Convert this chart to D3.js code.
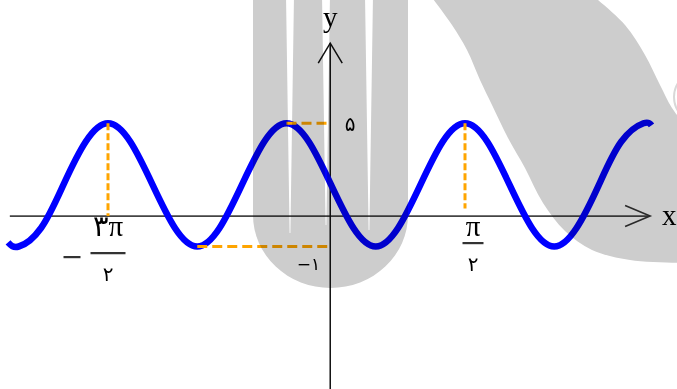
<!DOCTYPE html>
<html>
<head>
<meta charset="utf-8">
<script src="https://cdn.jsdelivr.net/npm/d3@7"></script>
<style>
  html, body { margin: 0; padding: 0; background: #fff; }
  svg { display: block; }
</style>
</head>
<body>
<svg id="chart" width="677" height="389"></svg>
<script>
// curve, x in multiples of pi
const curveX = [-2.06, -2, -1.875, -1.75, -1.625, -1.5, -1.375, -1.25, -1.125, -1,
  -0.875, -0.75, -0.625, -0.5, -0.375, -0.25, -0.125, 0, 0.125, 0.25, 0.375,
  0.5, 0.625, 0.75, 0.875, 1, 1.125, 1.25, 1.375, 1.5, 1.545];
const curveY = [-0.8, -1, -0.1, 2, 4.1, 5, 4.1, 2, -0.1, -1,
  -0.1, 2, 4.1, 5, 4.1, 2, -0.1, -1, -0.1, 2, 4.1,
  5, 4.1, 2, -0.1, -1, -0.1, 2, 4.1, 5, 4.9];

// marked x values (in pi) and their fraction labels
const xTicks = [-1.5, 0.5];
const xTickGuideEnd = [0.48, 0.85];  // y where the vertical dashed guide stops
const xTickSign = ["−", ""];
const xTickNum = ["۳π", "π"];
const xTickDen = ["۲", "۲"];

// marked y values and labels
const yTicks = [5, -1];
const yTickLabels = ["۵", "−۱"];
const yTickFrom = [-0.5, -1];   // x (in pi) where the dashed guide starts

// where the axes sit in the drawing (the figure is not to scale)
const yAxisAt = -0.255;
const xAxisAt = 0.48;
const xAxisExtent = [-2.05, 1.537];
const yAxisExtent = [-8, 8.9];

const svg = d3.select("#chart");

const x = d3.scaleLinear().domain([-1.5, 0.5]).range([108, 465]);
const y = d3.scaleLinear().domain([-1, 5]).range([246.5, 123.3]);

const pts = curveX.map((d, i) => ({x: d, y: curveY[i]}));
const guideColor = "#ffa500";

// axes
const ax0 = x(yAxisAt), ay0 = y(xAxisAt);
svg.append("line")
  .attr("x1", x(xAxisExtent[0])).attr("x2", x(xAxisExtent[1]))
  .attr("y1", ay0).attr("y2", ay0)
  .style("stroke", "#444").style("stroke-width", 1.7);
svg.append("line")
  .attr("x1", ax0).attr("x2", ax0)
  .attr("y1", y(yAxisExtent[1])).attr("y2", y(yAxisExtent[0]))
  .style("stroke", "#111").style("stroke-width", 1.5);

const xTip = x(xAxisExtent[1]), yTip = y(yAxisExtent[1]);
svg.append("path")
  .attr("d", `M${xTip - 25},${ay0 - 10.5}L${xTip},${ay0}L${xTip - 25},${ay0 + 10.5}`)
  .style("fill", "none").style("stroke", "#333").style("stroke-width", 1.6);
svg.append("path")
  .attr("d", `M${ax0 - 12},${yTip + 20}L${ax0},${yTip}L${ax0 + 12},${yTip + 20}`)
  .style("fill", "none").style("stroke", "#111").style("stroke-width", 1.5);

svg.append("text")
  .attr("x", xTip + 12).attr("y", ay0 + 9)
  .attr("font-family", "Liberation Serif, serif").attr("font-size", 29)
  .text("x");
svg.append("text")
  .attr("x", ax0).attr("y", 27)
  .attr("text-anchor", "middle")
  .attr("font-family", "Liberation Serif, serif").attr("font-size", 29)
  .text("y");

// curve
const line = d3.line()
  .x(d => x(d.x))
  .y(d => y(d.y))
  .curve(d3.curveNatural);

svg.append("path")
  .datum(pts)
  .attr("d", line)
  .style("fill", "none")
  .style("stroke", "#0000ff")
  .style("stroke-width", 6.5);

// dashed guides
xTicks.forEach((t, i) => {
  svg.append("line")
    .attr("x1", x(t)).attr("x2", x(t))
    .attr("y1", y(5)).attr("y2", y(xTickGuideEnd[i]))
    .style("stroke", guideColor).style("stroke-width", 3)
    .style("stroke-dasharray", "7,3");
});
yTicks.forEach((t, i) => {
  svg.append("line")
    .attr("x1", x(yTickFrom[i])).attr("x2", ax0 - (t < 0 ? 3 : 0))
    .attr("y1", y(t)).attr("y2", y(t))
    .style("stroke", guideColor).style("stroke-width", 3)
    .style("stroke-dasharray", "10,5");
});

// y labels
svg.append("text")
  .attr("x", ax0 + 20).attr("y", y(5) + 8)
  .attr("text-anchor", "middle")
  .attr("font-family", "DejaVu Sans, sans-serif").attr("font-size", 20)
  .text(yTickLabels[0]);
svg.append("text")
  .attr("x", ax0 - 10).attr("y", y(-1) + 23)
  .attr("text-anchor", "end")
  .attr("direction", "ltr").attr("unicode-bidi", "bidi-override")
  .attr("font-family", "DejaVu Sans, sans-serif").attr("font-size", 17)
  .text(yTickLabels[1]);

// x fraction labels
xTicks.forEach((t, i) => {
  const cx = x(t) + (i === 1 ? 8 : 0);
  const g = svg.append("g");
  g.append("text")
    .attr("x", cx).attr("y", ay0 + 20)
    .attr("text-anchor", "middle")
    .attr("font-family", "Liberation Serif, DejaVu Sans, serif").attr("font-size", 29)
    .text(xTickNum[i]);
  const bw = xTickNum[i].length > 1 ? 35 : 21;
  const by = i === 0 ? ay0 + 37 : ay0 + 27;
  g.append("line")
    .attr("x1", cx - bw / 2).attr("x2", cx + bw / 2)
    .attr("y1", by).attr("y2", by)
    .style("stroke", "#333").style("stroke-width", 2.2);
  g.append("text")
    .attr("x", cx).attr("y", by + 28)
    .attr("text-anchor", "middle")
    .attr("font-family", "DejaVu Sans, sans-serif").attr("font-size", 20)
    .text(xTickDen[i]);
  if (xTickSign[i]) {
    g.append("line")
      .attr("x1", cx - bw / 2 - 27).attr("x2", cx - bw / 2 - 10)
      .attr("y1", by + 4).attr("y2", by + 4)
      .style("stroke", "#333").style("stroke-width", 2.2);
  }
});

// watermark drawn over everything, multiplied
const wm = svg.append("g").style("mix-blend-mode", "multiply");
const slit = (cx, top, bottom, w) =>
  `M${cx - w / 2},${top}L${cx + w / 2},${top}L${cx + 0.4},${bottom}L${cx - 0.4},${bottom}Z`;
wm.append("path")
  .attr("d", "M253,-5L253,215A77.5,73 0 0 0 408,215L408,-5Z" +
    slit(290, -5, 233, 8) + slit(326, -5, 225, 8) + slit(369, -5, 230, 8))
  .attr("fill-rule", "evenodd")
  .style("fill", "#cdcdcd");

const swooshLeft = [[430, -5], [452, 25], [467, 50], [480, 80], [492, 105], [508, 138],
  [525, 168], [543, 203], [565, 231], [592, 250], [630, 260], [685, 263]];
const swooshRight = [[685, 125], [672, 108], [660, 85], [645, 55], [625, 25], [592, -5]];
const sw = d3.line().curve(d3.curveCatmullRom.alpha(0.5));
wm.append("path")
  .attr("d", sw(swooshLeft) + "L" + sw(swooshRight).slice(1) + "Z")
  .style("fill", "#cdcdcd");
wm.append("circle")
  .attr("cx", 700).attr("cy", 97).attr("r", 26)
  .style("fill", "none").style("stroke", "#d8d8d8").style("stroke-width", 2);
</script>
</body>
</html>
